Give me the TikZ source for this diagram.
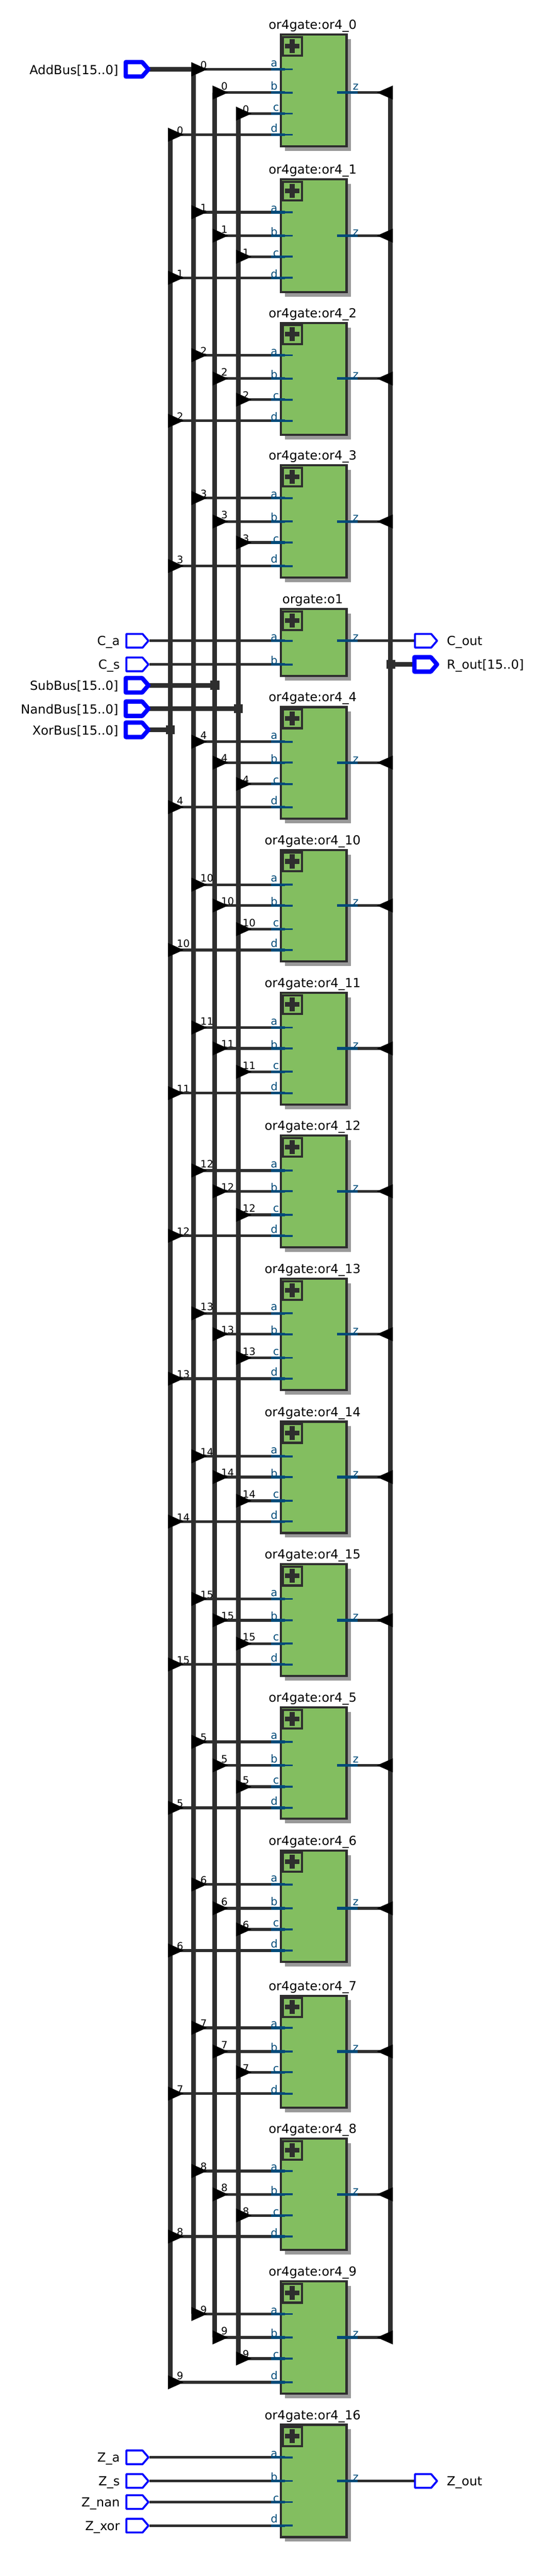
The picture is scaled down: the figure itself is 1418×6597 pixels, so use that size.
\documentclass[tikz,border=0pt]{standalone}
\usepackage{fontspec}
\setmainfont{DejaVu Sans}
\usepackage{tikz}

\definecolor{gategreen}{HTML}{83BE60}
\definecolor{wiredark}{HTML}{2E2E2E}
\definecolor{portblue}{HTML}{004A78}
\definecolor{shadowgray}{HTML}{999999}

\begin{document}
\begin{tikzpicture}[x=1pt,y=-1pt,
		gateblock/.style={draw=wiredark,fill=gategreen,line width=5.5pt,inner sep=0,outer sep=0,anchor=north west,minimum width=168.5pt},
		titlelbl/.style={font=\fontsize{32}{36}\selectfont,inner sep=0,anchor=base},
		pinlbl/.style={font=\fontsize{32}{36}\selectfont,inner sep=0},
		portlbl/.style={font=\fontsize{28}{32}\selectfont,text=portblue,inner sep=0,anchor=base west},
		indexlbl/.style={font=\fontsize{26}{30}\selectfont,inner sep=0,anchor=base west},
		wire/.style={draw=wiredark,line width=7pt},
		busline/.style={draw=wiredark,line width=12pt},
		stub/.style={draw=portblue,line width=7pt},
		stubin/.style={draw=portblue,line width=5pt},
		pinthin/.style={draw=blue,fill=white,line width=5pt,line join=round},
		pinbus/.style={draw=blue,fill=white,line width=11pt,line join=round},
		junct/.style={fill=wiredark,inner sep=0,outer sep=0,minimum size=23pt}]
	\useasboundingbox (0,0) rectangle (1418,6597);

	% blocks
	\foreach \n/\ttl/\yt/\ye in
	{0/or4gate:or4\_0/86/377.5, 1/or4gate:or4\_1/456.5/750.4, 2/or4gate:or4\_2/824/1116, 3/or4gate:or4\_3/1189/1482,
	o1/orgate:o1/1557/1734, 4/or4gate:or4\_4/1808/2099, 10/or4gate:or4\_10/2174/2464.8, 11/or4gate:or4\_11/2540/2831,
	12/or4gate:or4\_12/2905.5/3196.7, 13/or4gate:or4\_13/3272/3562.7, 14/or4gate:or4\_14/3638/3928.6,
	15/or4gate:or4\_15/4003.4/4294.6, 5/or4gate:or4\_5/4370/4660.6, 6/or4gate:or4\_6/4736/5026.5,
	7/or4gate:or4\_7/5108/5400, 8/or4gate:or4\_8/5474/5765, 9/or4gate:or4\_9/5840/6133, 16/or4gate:or4\_16/6207/6500}{
		\fill[shadowgray] (730,\yt+14.5) rectangle (899,\ye+9);
		\pgfmathsetmacro\hh{\ye-\yt-5.5}
		\node[gateblock,minimum height=\hh pt] (g\n) at (718.75,\yt+2.75) {};
		\node[titlelbl] (tt\n) at (800.5,\yt-11) {\ttl};
		\draw[wiredark,line width=5.5pt] (724.5,\yt+9) rectangle (773.5,\yt+57);
		\fill[wiredark] (730,\yt+26) rectangle (767,\yt+38);
		\fill[wiredark] (742,\yt+14) rectangle (755,\yt+50);
	}

	% ports a,b,c,d,z
	\foreach \n/\ya/\yb/\yc/\yd/\pa/\pb/\pc/\pd in
	{0/177.5/237/291/345/7/7/7/7, 1/543.4/603.5/657.5/711.4/0/0/0/0, 2/909.6/969.5/1023.6/1077.6/0/0/0/0,
	3/1275.4/1335.5/1389.5/1449.5/0/1/0/8, 4/1899.5/1953/2007.7/2067/7/0/0/7, 10/2265.6/2319/2379.4/2432.8/7/0/7/7,
	11/2631.5/2685/2744.8/2799.4/7/0/7/7, 12/2997.5/3050.8/3111.3/3164.7/7/0/7/7, 13/3363.4/3416.8/3477.3/3530.7/7/0/7/7,
	14/3729.4/3782.7/3843.3/3896.6/7/0/7/7, 15/4094.7/4149.3/4209.2/4262.6/7/0/7/7, 5/4460.7/4521/4575.7/4629.7/7/7/7/7,
	6/4826/4887/4941/4995/7/7/7/7, 7/5193/5253.7/5307/5361.6/0/0/0/0, 8/5559.7/5619.6/5673.6/5727.6/0/0/0/0,
	9/5926/5986/6040/6101/0/0/0/7, 16/6293/6353.6/6407.6/6468/0/0/0/7}{
		\foreach \p/\yy/\off/\lx in {a/\ya/\pa/693, b/\yb/\pb/692.5, c/\yc/\pc/699, d/\yd/\pd/693}{
			\coordinate (p\p\n) at (694,\yy);
			\node[portlbl] (l\p\n) at (\lx,\yy-\off) {\p};
		}
		\coordinate (zo\n) at (863,\yb);
		\node[portlbl] (lz\n) at (903,\yb-\pb) {z};
	}
	\foreach \p/\yy/\lx in {a/1641/693, b/1701.5/692.5}{
		\coordinate (p\p o1) at (694,\yy);
		\node[portlbl] (l\p o1) at (\lx,\yy) {\p};
	}
	\coordinate (zoo1) at (863,1641);
	\node[portlbl] (lzo1) at (903,1641) {z};

	% bus taps and their numbers
	\foreach \n/\na/\nb/\nc/\nd in
	{0/1.5/7/1.5/1.5, 1/1.5/7/1.5/1.5, 2/1.5/7/1.5/1.5, 3/1.5/7/1.5/7, 4/7/2/1.5/7, 10/7/1.5/7/7, 11/7/1.5/7/1.5, 12/7/1.5/7/1.5,
	13/7/1.5/7/1.5, 14/1.5/1.5/7/1.5, 15/1.5/1.5/7/1.5, 5/1.5/7/7/1.5, 6/1.5/7/1.5/1.5, 7/1.5/7/1.5/1.5, 8/1.5/7/1.5/1.5, 9/1.5/7/1.5/7}{
		\foreach \p/\bx/\dx/\off in {a/496/17/\na, b/550/16/\nb, c/610/11/\nc, d/436/16.5/\nd}{
			\coordinate (b\p\n) at (\bx,0 |- p\p\n);
			\node[indexlbl] (i\p\n) at ([shift={(\dx,-\off)}]b\p\n) {\n};
		}
		\coordinate (rb\n) at (1000,0 |- zo\n);
	}

	% vertical buses
	\foreach \p in {a,b,c,d}{
		\draw[busline] (b\p0) -- (b\p9);
	}
	\draw[busline] (rb0) -- (rb9);

	% wires from the buses
	\foreach \n in {0,...,15}{
		\foreach \p in {a,b,c,d}{
			\draw[wire] (b\p\n) -- (p\p\n);
			\fill[black] ([shift={(-6,-18)}]b\p\n) -- ([shift={(-6,18)}]b\p\n) -- ([shift={(34,0)}]b\p\n) -- cycle;
		}
		\draw[wire] (zo\n) -- (rb\n);
		\fill[black] ([shift={(6,-18)}]rb\n) -- ([shift={(6,18)}]rb\n) -- ([shift={(-35,0)}]rb\n) -- cycle;
	}

	% input pins
	\foreach \x/\y/\nm in
	{Ca/1641/C\_a, Cs/1701.5/C\_s, Za/6293/Z\_a, Zs/6353.6/Z\_s, Zn/6407.6/Z\_nan, Zx/6468/Z\_xor}{
		\coordinate (in\x) at (382,\y);
		\node[pinlbl,anchor=base east] (lb\x) at (307,\y+12) {\nm};
	}
	\foreach \x/\y/\nm in
	{Add/177.5/AddBus[15..0], Sub/1755/SubBus[15..0], Nand/1815/NandBus[15..0], Xor/1869/XorBus[15..0]}{
		\coordinate (in\x) at (382,\y);
		\node[pinlbl,anchor=base east] (lb\x) at (303,\y+12.5) {\nm};
	}

	% output pins
	\foreach \x/\y/\nm in
	{Cout/1641/C\_out, Rout/1701.5/R\_out[15..0], Zout/6353.6/Z\_out}{
		\coordinate (out\x) at (1061,\y);
		\node[pinlbl,anchor=base west] (lb\x) at (1144,\y+12) {\nm};
	}

	\node[junct] (tSub) at (550,1755) {};
	\node[junct] (tNand) at (610,1815) {};
	\node[junct] (tXor) at (436,1869) {};
	\node[junct] (tRout) at (1001,1701.5) {};

	\draw[busline] (inAdd) -- (ba0);
	\draw[busline] (inSub) -- (tSub);
	\draw[busline] (inNand) -- (tNand);
	\draw[busline] (inXor) -- (tXor);
	\draw[busline] (tRout) -- (outRout);
	\fill[black] ([shift={(-6,-18)}]ba0) -- ([shift={(-6,18)}]ba0) -- ([shift={(34,0)}]ba0) -- cycle;

	\draw[wire] (inCa) -- (pao1);
	\draw[wire] (inCs) -- (pbo1);
	\draw[wire] (zoo1) -- (outCout);
	\draw[wire] (inZa) -- (pa16);
	\draw[wire] (inZs) -- (pb16);
	\draw[wire] (inZn) -- (pc16);
	\draw[wire] (inZx) -- (pd16);
	\draw[wire] (zo16) -- (outZout);

	% port stubs
	\foreach \n in {0,...,16}{
		\foreach \p in {a,b,c,d}{
			\draw[stub] (p\p\n) -- ++(36,0);
			\draw[stubin] (p\p\n) ++(36,0) -- ++(19,0);
		}
		\draw[stub] (zo\n) -- ++(53,0);
	}
	\foreach \p in {a,b}{
		\draw[stub] (p\p o1) -- ++(36,0);
		\draw[stubin] (p\p o1) ++(36,0) -- ++(19,0);
	}
	\draw[stub] (zoo1) -- ++(53,0);

	% pin shapes
	\foreach \y in {1641,1701.5,6293,6353.6,6407.6,6468}{
		\draw[pinthin] (323.5,\y-17.5) -- (365,\y-17.5) -- (380,\y) -- (365,\y+17.5) -- (323.5,\y+17.5) -- cycle;
	}
	\foreach \y in {177.5,1755,1815,1869}{
		\draw[pinbus] (322,\y-18.5) -- (364,\y-18.5) -- (380,\y) -- (364,\y+18.5) -- (322,\y+18.5) -- cycle;
	}
	\foreach \y in {1641,6353.6}{
		\draw[pinthin] (1062.5,\y-17.5) -- (1104,\y-17.5) -- (1119,\y) -- (1104,\y+17.5) -- (1062.5,\y+17.5) -- cycle;
	}
	\draw[pinbus] (1061,1683) -- (1103,1683) -- (1119,1701.5) -- (1103,1720) -- (1061,1720) -- cycle;
\end{tikzpicture}
\end{document}
